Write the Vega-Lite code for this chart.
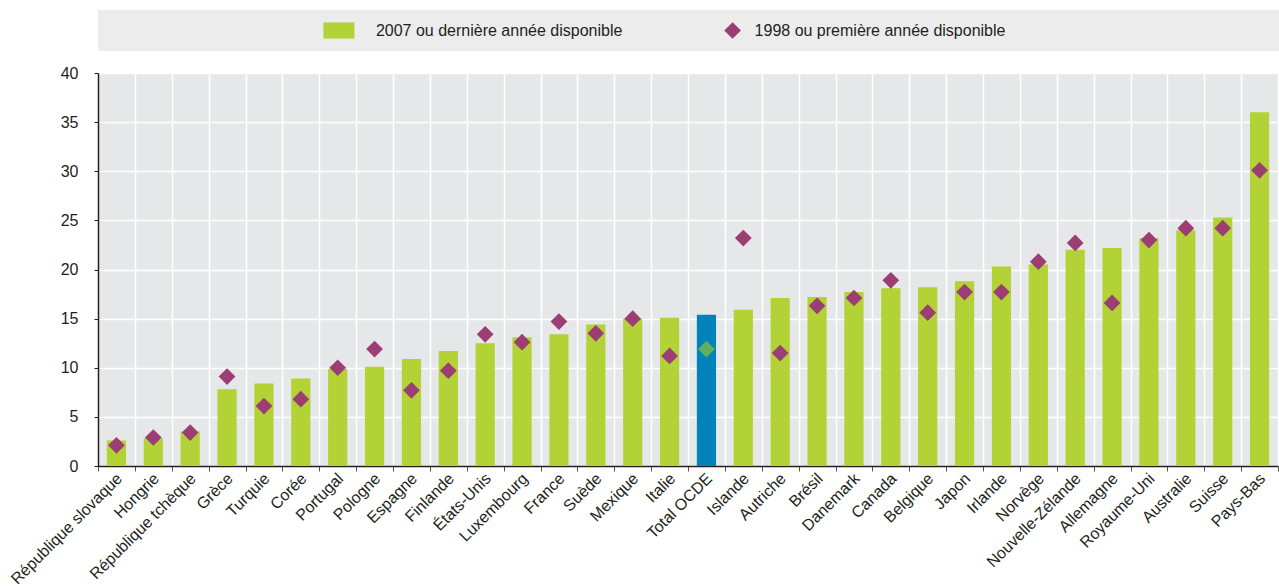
{
  "$schema": "https://vega.github.io/schema/vega-lite/v6.json",
  "padding": {"left": 7, "top": 10, "right": 0, "bottom": 0},
  "spacing": 14,
  "config": {
    "font": "Liberation Sans Narrow, Arial Narrow, Liberation Sans, sans-serif",
    "view": {"stroke": null},
    "concat": {"spacing": 14}
  },
  "datasets": {
    "pays": [
      {"pays": "République slovaque", "v2007": 2.6, "v1998": 2.1},
      {"pays": "Hongrie", "v2007": 2.8, "v1998": 2.9},
      {"pays": "République tchèque", "v2007": 3.5, "v1998": 3.4},
      {"pays": "Grèce", "v2007": 7.8, "v1998": 9.1},
      {"pays": "Turquie", "v2007": 8.4, "v1998": 6.1},
      {"pays": "Corée", "v2007": 8.9, "v1998": 6.8},
      {"pays": "Portugal", "v2007": 9.9, "v1998": 10.0},
      {"pays": "Pologne", "v2007": 10.1, "v1998": 11.9},
      {"pays": "Espagne", "v2007": 10.9, "v1998": 7.7},
      {"pays": "Finlande", "v2007": 11.7, "v1998": 9.7},
      {"pays": "États-Unis", "v2007": 12.5, "v1998": 13.4},
      {"pays": "Luxembourg", "v2007": 13.1, "v1998": 12.6},
      {"pays": "France", "v2007": 13.4, "v1998": 14.7},
      {"pays": "Suède", "v2007": 14.4, "v1998": 13.5},
      {"pays": "Mexique", "v2007": 15.0, "v1998": 15.0},
      {"pays": "Italie", "v2007": 15.1, "v1998": 11.2},
      {"pays": "Total OCDE", "v2007": 15.4, "v1998": 11.9},
      {"pays": "Islande", "v2007": 15.9, "v1998": 23.2},
      {"pays": "Autriche", "v2007": 17.1, "v1998": 11.5},
      {"pays": "Brésil", "v2007": 17.2, "v1998": 16.3},
      {"pays": "Danemark", "v2007": 17.7, "v1998": 17.1},
      {"pays": "Canada", "v2007": 18.1, "v1998": 18.9},
      {"pays": "Belgique", "v2007": 18.2, "v1998": 15.6},
      {"pays": "Japon", "v2007": 18.8, "v1998": 17.7},
      {"pays": "Irlande", "v2007": 20.3, "v1998": 17.7},
      {"pays": "Norvège", "v2007": 20.5, "v1998": 20.8},
      {"pays": "Nouvelle-Zélande", "v2007": 22.0, "v1998": 22.7},
      {"pays": "Allemagne", "v2007": 22.2, "v1998": 16.6},
      {"pays": "Royaume-Uni", "v2007": 23.2, "v1998": 23.0},
      {"pays": "Australie", "v2007": 24.0, "v1998": 24.2},
      {"pays": "Suisse", "v2007": 25.3, "v1998": 24.2},
      {"pays": "Pays-Bas", "v2007": 36.0, "v1998": 30.1}
    ],
    "legende": [
      {"serie": "2007 ou dernière année disponible"},
      {"serie": "1998 ou première année disponible"}
    ]
  },
  "vconcat": [
    {
      "width": 1181,
      "height": 41,
      "view": {"fill": "#ececec", "stroke": null},
      "data": {"name": "legende"},
      "encoding": {
        "x": {
          "field": "serie",
          "type": "nominal",
          "sort": null,
          "scale": {"type": "point", "padding": 1, "align": 0.306},
          "axis": null
        }
      },
      "layer": [
        {
          "transform": [{"filter": "datum.serie === '2007 ou dernière année disponible'"}],
          "mark": {"type": "point", "shape": "M-1,-0.52L1,-0.52L1,0.52L-1,0.52Z", "filled": true, "size": 961, "color": "#b2d235", "opacity": 1}
        },
        {
          "transform": [{"filter": "datum.serie === '1998 ou première année disponible'"}],
          "mark": {"type": "point", "shape": "diamond", "filled": true, "size": 280, "color": "#9c3d74", "opacity": 1}
        },
        {
          "transform": [{"filter": "datum.serie === '2007 ou dernière année disponible'"}],
          "mark": {"type": "text", "align": "left", "baseline": "middle", "dx": 37, "fontSize": 16, "color": "#231f20"},
          "encoding": {"text": {"field": "serie"}}
        },
        {
          "transform": [{"filter": "datum.serie === '1998 ou première année disponible'"}],
          "mark": {"type": "text", "align": "left", "baseline": "middle", "dx": 22, "fontSize": 16, "color": "#231f20"},
          "encoding": {"text": {"field": "serie"}}
        }
      ]
    },
    {
      "width": 1180,
      "height": 393,
      "view": {"fill": "#e6e7e8", "stroke": null},
      "data": {"name": "pays"},
      "encoding": {
        "x": {
          "field": "pays",
          "type": "nominal",
          "sort": null,
          "scale": {"type": "band", "paddingInner": 0, "paddingOuter": 0},
          "axis": {
            "title": null,
            "tickBand": "extent",
            "grid": true,
            "gridColor": "#ffffff",
            "gridWidth": 1.5,
            "domainColor": "#231f20",
            "domainWidth": 1.5,
            "tickColor": "#555555",
            "tickSize": 5,
            "labelAngle": -45,
            "labelFontSize": 16,
            "labelColor": "#231f20",
            "labelPadding": -1,
            "labelOffset": -3,
            "labelLimit": 300
          }
        }
      },
      "layer": [
        {
          "mark": {"type": "bar", "width": {"band": 0.52}},
          "encoding": {
            "y": {
              "field": "v2007",
              "type": "quantitative",
              "scale": {"domain": [0, 40], "nice": false},
              "axis": {
                "title": null,
                "values": [0, 5, 10, 15, 20, 25, 30, 35, 40],
                "grid": true,
                "gridColor": "#ffffff",
                "gridWidth": 1.5,
                "domainColor": "#231f20",
                "domainWidth": 1.5,
                "tickColor": "#231f20",
                "tickSize": 4,
                "labelFontSize": 16,
                "labelColor": "#231f20",
                "labelPadding": 16
              }
            },
            "color": {
              "condition": {"test": "datum.pays === 'Total OCDE'", "value": "#0083bb"},
              "value": "#b2d235"
            }
          }
        },
        {
          "mark": {"type": "point", "shape": "diamond", "filled": true, "size": 280, "opacity": 1},
          "encoding": {
            "y": {"field": "v1998", "type": "quantitative"},
            "color": {
              "condition": {"test": "datum.pays === 'Total OCDE'", "value": "#5fb25b"},
              "value": "#9c3d74"
            }
          }
        }
      ]
    }
  ]
}
